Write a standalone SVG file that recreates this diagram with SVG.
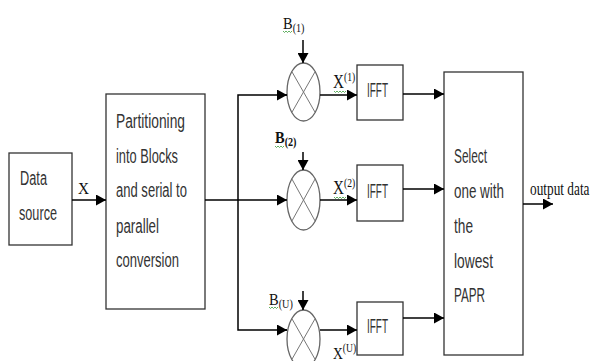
<svg xmlns="http://www.w3.org/2000/svg" width="595" height="361" viewBox="0 0 595 361">
<style>
.box{fill:#fff;stroke:#333;stroke-width:1.3}
.circ{fill:#fff;stroke:#666;stroke-width:1.3}
.cross{stroke:#777;stroke-width:1}
.wire{fill:none;stroke:#000;stroke-width:1.5}
.t{font-family:"Liberation Sans",Arial,sans-serif;font-size:20px;fill:#333}
.s{font-family:"Liberation Serif","Times New Roman",serif;fill:#111}
.sub{font-size:12px}
.sq{fill:none;stroke:#3a9a3a;stroke-width:0.8}
</style>
<defs>
<marker id="ah" markerUnits="userSpaceOnUse" markerWidth="10" markerHeight="11" refX="10" refY="5.5" orient="auto">
<path d="M0,0 L10,5.5 L0,11 z" fill="#000"/>
</marker>
</defs>
<rect width="595" height="361" fill="#fff"/>

<g id="data-source">
<rect class="box" x="9" y="153" width="63" height="92"/>
<text class="t" x="20" y="185" textLength="27" lengthAdjust="spacingAndGlyphs">Data</text>
<text class="t" x="19" y="220" textLength="38" lengthAdjust="spacingAndGlyphs">source</text>
</g>

<g id="partition">
<rect class="box" x="106" y="94" width="99" height="215"/>
<text class="t" x="116" y="128" textLength="69" lengthAdjust="spacingAndGlyphs">Partitioning</text>
<text class="t" x="116" y="163" textLength="62" lengthAdjust="spacingAndGlyphs">into Blocks</text>
<text class="t" x="116" y="197" textLength="71" lengthAdjust="spacingAndGlyphs">and serial to</text>
<text class="t" x="116" y="233" textLength="43" lengthAdjust="spacingAndGlyphs">parallel</text>
<text class="t" x="116" y="267" textLength="63" lengthAdjust="spacingAndGlyphs">conversion</text>
</g>

<g id="mult1">
<ellipse class="circ" cx="303.5" cy="92" rx="16.5" ry="29"/>
<line class="cross" x1="291.8" y1="71.5" x2="315.2" y2="112.5"/>
<line class="cross" x1="315.2" y1="71.5" x2="291.8" y2="112.5"/>
</g>
<g id="mult2">
<ellipse class="circ" cx="303.5" cy="200" rx="16.5" ry="30"/>
<line class="cross" x1="291.8" y1="178.8" x2="315.2" y2="221.2"/>
<line class="cross" x1="315.2" y1="178.8" x2="291.8" y2="221.2"/>
</g>
<g id="mult3">
<ellipse class="circ" cx="303.5" cy="339" rx="16.5" ry="29"/>
<line class="cross" x1="291.8" y1="318.5" x2="315.2" y2="359.5"/>
<line class="cross" x1="315.2" y1="318.5" x2="291.8" y2="359.5"/>
</g>

<g id="ifft1">
<rect class="box" x="357" y="65" width="46" height="55"/>
<text class="t" x="367" y="97" textLength="21" lengthAdjust="spacingAndGlyphs">IFFT</text>
</g>
<g id="ifft2">
<rect class="box" x="357" y="165" width="46" height="56"/>
<text class="t" x="367" y="198" textLength="21" lengthAdjust="spacingAndGlyphs">IFFT</text>
</g>
<g id="ifft3">
<rect class="box" x="357" y="302" width="46" height="53"/>
<text class="t" x="367" y="333" textLength="21" lengthAdjust="spacingAndGlyphs">IFFT</text>
</g>

<g id="select">
<rect class="box" x="444" y="72" width="79" height="283"/>
<text class="t" x="454" y="163" textLength="33" lengthAdjust="spacingAndGlyphs">Select</text>
<text class="t" x="454" y="198" textLength="50" lengthAdjust="spacingAndGlyphs">one with</text>
<text class="t" x="454" y="233" textLength="19" lengthAdjust="spacingAndGlyphs">the</text>
<text class="t" x="454" y="268" textLength="39" lengthAdjust="spacingAndGlyphs">lowest</text>
<text class="t" x="454" y="302" textLength="31" lengthAdjust="spacingAndGlyphs">PAPR</text>
</g>

<g id="connectors">
<line class="wire" x1="72" y1="200" x2="106" y2="200" marker-end="url(#ah)"/>
<line class="wire" x1="205" y1="200" x2="287" y2="200" marker-end="url(#ah)"/>
<polyline class="wire" points="287,95 238,95 238,330 287,330"/>
<line class="wire" x1="280" y1="95" x2="287" y2="95" marker-end="url(#ah)"/>
<line class="wire" x1="280" y1="330" x2="287" y2="330" marker-end="url(#ah)"/>
<line class="wire" x1="303" y1="40" x2="303" y2="63" marker-end="url(#ah)"/>
<line class="wire" x1="303" y1="152" x2="303" y2="170" marker-end="url(#ah)"/>
<line class="wire" x1="303" y1="291" x2="303" y2="310" marker-end="url(#ah)"/>
<line class="wire" x1="320" y1="95" x2="357" y2="95" marker-end="url(#ah)"/>
<line class="wire" x1="320" y1="200" x2="357" y2="200" marker-end="url(#ah)"/>
<line class="wire" x1="320" y1="330" x2="357" y2="330" marker-end="url(#ah)"/>
<line class="wire" x1="403" y1="94" x2="444" y2="94" marker-end="url(#ah)"/>
<line class="wire" x1="403" y1="189" x2="444" y2="189" marker-end="url(#ah)"/>
<line class="wire" x1="403" y1="318" x2="444" y2="318" marker-end="url(#ah)"/>
<line class="wire" x1="523" y1="204" x2="553" y2="204" marker-end="url(#ah)"/>
</g>

<g id="labels">
<text class="s" x="78" y="194" font-size="17" textLength="11" lengthAdjust="spacingAndGlyphs">X</text>
<text class="s" font-size="17" transform="translate(283,29) scale(0.85,1)">B<tspan class="sub" dy="3">(1)</tspan></text>
<text class="s" font-size="17" font-weight="bold" transform="translate(275,143) scale(0.85,1)">B<tspan class="sub" dy="3">(2)</tspan></text>
<text class="s" font-size="17" transform="translate(269,305) scale(0.85,1)">B<tspan class="sub" dy="3">(U)</tspan></text>
<text class="s" font-size="19" transform="translate(333,88) scale(0.8,1)">X<tspan class="sub" dy="-7">(1)</tspan></text>
<text class="s" font-size="19" transform="translate(333,194) scale(0.8,1)">X<tspan class="sub" dy="-7">(2)</tspan></text>
<text class="s" font-size="17" transform="translate(333,359) scale(0.8,1)">X<tspan class="sub" dy="-7">(U)</tspan></text>
<text class="s" font-size="18" transform="translate(530,195) scale(0.74,1)">output data</text>
</g>

<g id="squiggles">
<polyline class="sq" points="283,31 284.5,32.5 286,31 287.5,32.5 289,31 290.5,32.5 292,31"/>
<polyline class="sq" points="275,146 276.5,147.5 278,146 279.5,147.5 281,146 282.5,147.5 284,146"/>
<polyline class="sq" points="269,307 270.5,308.5 272,307 273.5,308.5 275,307 276.5,308.5 278,307"/>
<polyline class="sq" points="334,91 335.5,92.5 337,91 338.5,92.5 340,91 341.5,92.5 343,91 344.5,92.5 346,91"/>
<polyline class="sq" points="334,197 335.5,198.5 337,197 338.5,198.5 340,197 341.5,198.5 343,197 344.5,198.5 346,197"/>
</g>
</svg>
